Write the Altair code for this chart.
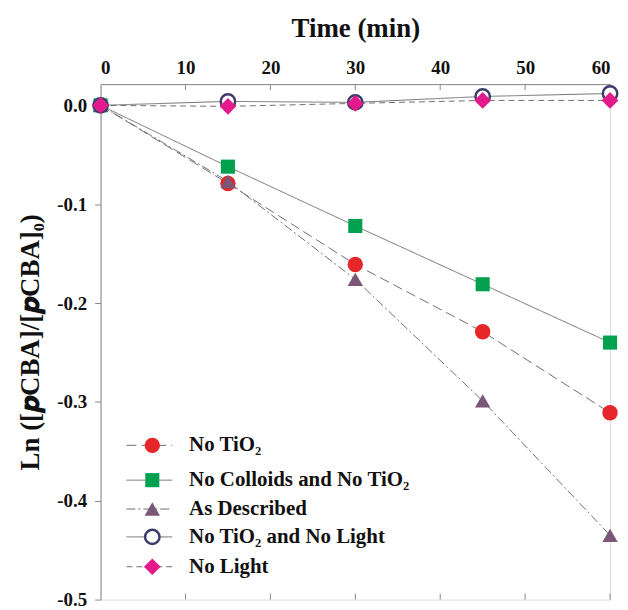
import altair as alt
import pandas as pd

# ---- data ----
time_min = [0, 15, 30, 45, 60]
no_tio2 = [0.0, -0.079, -0.161, -0.229, -0.311]
no_colloids_no_tio2 = [0.0, -0.062, -0.122, -0.181, -0.240]
as_described = [0.0, -0.077, -0.176, -0.299, -0.435]
no_tio2_no_light = [0.0, 0.004, 0.003, 0.009, 0.012]
no_light = [0.0, -0.001, 0.002, 0.005, 0.005]

series_names = ["No TiO₂", "No Colloids and No TiO₂", "As Described",
                "No TiO₂ and No Light", "No Light"]
series_values = [no_tio2, no_colloids_no_tio2, as_described, no_tio2_no_light, no_light]

x_ticks = [0, 10, 20, 30, 40, 50, 60]
y_ticks = [-0.5, -0.4, -0.3, -0.2, -0.1, 0.0]
y_title = "Ln ([\U0001D491CBA]/[\U0001D491CBA]₀)"

# ---- styles ----
shapes = ["circle", "square", "triangle-up", "circle", "diamond"]
fills = ["#E5262B", "#00A04F", "#7A5777", "white", "#E4198B"]
strokes = ["#E5262B", "#00A04F", "#7A5777", "#3D3D6B", "#E4198B"]
stroke_w = [0, 0, 0, 2.5, 0]
sizes = [240, 200, 240, 210, 280]
dashes = [[10, 5], [1, 0], [9, 3, 2, 3], [1, 0], [6, 4]]
line_color = "#6f6f6f"

W, H = 512, 518
FONT = "Liberation Serif"
legend_y = [363, 398, 427, 455, 485]

xscale = alt.Scale(domain=[0, 60], nice=False)
yscale = alt.Scale(domain=[-0.5, 0.0215], nice=False)

layers = []
# inward ticks on top and bottom
tick_df = pd.DataFrame({"t": x_ticks[1:]})
layers.append(alt.Chart(tick_df).mark_rule(color="#888", strokeWidth=1).encode(
    x=alt.X("t:Q", scale=xscale), y=alt.value(0), y2=alt.value(6)))
layers.append(alt.Chart(tick_df).mark_rule(color="#888", strokeWidth=1).encode(
    x=alt.X("t:Q", scale=xscale), y=alt.value(H - 6), y2=alt.value(H)))

for i, name in enumerate(series_names):
    df = pd.DataFrame({"time": time_min, "val": series_values[i]})
    base = alt.Chart(df).encode(
        x=alt.X("time:Q", scale=xscale,
                axis=alt.Axis(orient="top", values=x_ticks, title="Time (min)", ticks=False,
                              labelFont=FONT, labelFontWeight="bold", labelFontSize=19,
                              labelPadding=7, titleFont=FONT, titleFontWeight="bold",
                              titleFontSize=27, titlePadding=16, grid=False,
                              domainColor="#888", labelColor="#111", titleColor="#111")),
        y=alt.Y("val:Q", scale=yscale,
                axis=alt.Axis(values=y_ticks, title=y_title,
                              labelExpr="replace(format(datum.value, '.1f'), '\u2212', '-')",
                              labelFont=FONT, labelFontWeight="bold", labelFontSize=19,
                              tickSize=6, tickColor="#888", labelPadding=8,
                              titleFont=FONT, titleFontWeight="bold", titleFontSize=27,
                              titlePadding=12, grid=False, domainColor="#888",
                              labelColor="#111", titleColor="#111")),
    )
    layers.append(base.mark_line(color=line_color, strokeWidth=1, strokeDash=dashes[i]))
for i, name in enumerate(series_names):
    df = pd.DataFrame({"time": time_min, "val": series_values[i]})
    layers.append(alt.Chart(df).mark_point(
        shape=shapes[i], filled=True, fill=fills[i], stroke=strokes[i],
        strokeWidth=stroke_w[i], size=sizes[i], opacity=1, fillOpacity=1).encode(
        x=alt.X("time:Q", scale=xscale), y=alt.Y("val:Q", scale=yscale)))

# legend
one = pd.DataFrame({"k": [0]})
for i, name in enumerate(series_names):
    ly = legend_y[i]
    layers.append(alt.Chart(one).mark_rule(color=line_color, strokeWidth=1,
                                           strokeDash=dashes[i]).encode(
        x=alt.value(26), x2=alt.value(72), y=alt.value(ly)))
    layers.append(alt.Chart(one).mark_point(
        shape=shapes[i], filled=True, fill=fills[i], stroke=strokes[i],
        strokeWidth=stroke_w[i], size=sizes[i], opacity=1, fillOpacity=1).encode(
        x=alt.value(52), y=alt.value(ly)))
    layers.append(alt.Chart(one).mark_text(
        align="left", baseline="middle", font=FONT, fontWeight="bold", fontSize=21,
        color="#111").encode(x=alt.value(89), y=alt.value(ly), text=alt.value(name)))

chart = alt.layer(*layers).properties(
    width=W, height=H,
    autosize=alt.AutoSizeParams(type="none"),
    padding={"left": 93, "top": 75, "right": 10, "bottom": 10},
).configure_view(stroke="#888", strokeWidth=1).configure(background="white")

chart.save("out.html", embed_options={"renderer": "svg", "actions": False})
